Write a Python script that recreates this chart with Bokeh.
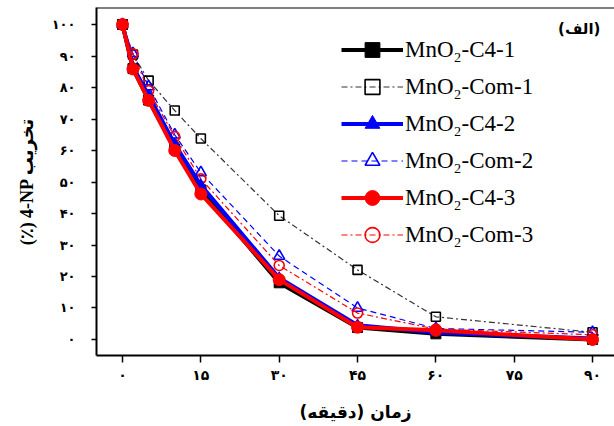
from bokeh.plotting import figure
from bokeh.models import (Legend, LegendItem, FixedTicker, Span, Label, Range1d)
from bokeh.embed import file_html
from bokeh.resources import INLINE

# ---- data ----
time_min = [0, 2, 5, 10, 15, 30, 45, 60, 90]
c4_1 = [100, 86.0, 76.0, 60.5, 47.5, 18.0, 3.8, 1.8, 0.0]
com_1 = [100, 90.5, 82.2, 72.7, 63.8, 39.3, 22.1, 7.2, 2.3]
c4_2 = [100, 86.5, 77.5, 62.0, 49.0, 19.5, 4.5, 2.2, 0.3]
com_2 = [100, 90.8, 80.3, 65.0, 53.0, 26.5, 10.0, 3.5, 2.3]
c4_3 = [100, 85.9, 75.9, 60.0, 46.2, 19.0, 3.9, 2.9, 0.0]
com_3 = [100, 90.7, 79.0, 64.4, 51.0, 23.5, 8.4, 3.3, 1.5]

series_names = ["MnO₂-C4-1", "MnO₂-Com-1", "MnO₂-C4-2",
                "MnO₂-Com-2", "MnO₂-C4-3", "MnO₂-Com-3"]

x_ticks = [0, 15, 30, 45, 60, 75, 90]
x_tick_labels = ["۰", "۱۵", "۳۰", "۴۵", "۶۰", "۷۵", "۹۰"]
y_ticks = [0, 10, 20, 30, 40, 50, 60, 70, 80, 90, 100]
y_tick_labels = ["۰", "۱۰", "۲۰", "۳۰", "۴۰", "۵۰", "۶۰", "۷۰", "۸۰", "۹۰", "۱۰۰"]

x_label = "زمان (دقیقه)"
y_label = "(٪) 4-NP تخریب"
panel_label = "(الف)"

X_MIN, X_MAX = -4.98, 94.2
Y_MIN, Y_MAX = -5.08, 105.4

FA_FONT = "DejaVu Sans"

p = figure(width=614, height=426, output_backend="svg", toolbar_location=None,
           x_range=Range1d(X_MIN, X_MAX), y_range=Range1d(Y_MIN, Y_MAX),
           min_border_left=96, min_border_right=0, min_border_top=7,
           min_border_bottom=71)
p.grid.visible = False
p.outline_line_color = None
p.background_fill_color = "white"
p.border_fill_color = "white"

# top frame line
p.add_layout(Span(location=Y_MAX, dimension="width", line_color="black", line_width=2))

for ax in (p.xaxis[0], p.yaxis[0]):
    ax.axis_line_width = 2
    ax.axis_line_color = "black"
    ax.major_tick_line_width = 1.5
    ax.major_tick_in = 0
    ax.minor_tick_line_color = None
    ax.major_label_text_font = FA_FONT
    ax.major_label_text_font_style = "bold"
    ax.major_label_text_color = "black"
    ax.axis_label_text_color = "black"

p.xaxis.ticker = FixedTicker(ticks=x_ticks)
p.xaxis.major_label_overrides = {t: l for t, l in zip(x_ticks, x_tick_labels)}
p.xaxis.major_tick_out = 7
p.xaxis.major_label_standoff = 4
p.xaxis.major_label_text_font_size = "14px"
p.xaxis.axis_label = x_label
p.xaxis.axis_label_text_font = FA_FONT
p.xaxis.axis_label_text_font_style = "bold"
p.xaxis.axis_label_text_font_size = "17px"
p.xaxis.axis_label_standoff = 16

p.yaxis.ticker = FixedTicker(ticks=y_ticks)
p.yaxis.major_label_overrides = {t: l for t, l in zip(y_ticks, y_tick_labels)}
p.yaxis.major_tick_out = 5
p.yaxis.major_label_standoff = 16
p.yaxis.major_label_text_font_size = "13px"
p.yaxis.axis_label = y_label
p.yaxis.axis_label_text_font = "Liberation Serif, DejaVu Sans"
p.yaxis.axis_label_text_font_style = "bold"
p.yaxis.axis_label_text_font_size = "18px"
p.yaxis.axis_label_standoff = 12

styles = [
    # (data, color, width, dash, marker, size, filled)
    (c4_1, "black", 4, "solid", "square", 10, True),
    (com_1, "#333333", 1.2, "6 3 2 3", "square", 9, False),
    (c4_2, "blue", 4, "solid", "triangle", 11, True),
    (com_2, "blue", 1.2, "6 4", "triangle", 11, False),
    (c4_3, "red", 4, "solid", "circle", 12, True),
    (com_3, "red", 1.2, "6 3 2 3", "circle", 10, False),
]

draw_order = [1, 3, 5, 0, 2, 4]
renderers = {}
for i in draw_order:
    data, color, w, dash, marker, size, filled = styles[i]
    lr = p.line(time_min, data, line_color=color, line_width=w, line_dash=dash)
    mcol = "black" if (i == 1) else color
    if filled:
        sr = p.scatter(time_min, data, marker=marker, size=size,
                       fill_color=color, line_color=color, line_width=1)
    else:
        sr = p.scatter(time_min, data, marker=marker, size=size,
                       fill_color="white", fill_alpha=0.0, line_color=mcol, line_width=1.6)
    renderers[i] = [lr, sr]

items = [LegendItem(label=series_names[i], renderers=renderers[i]) for i in range(6)]
legend = Legend(items=items, location=(245, 102), orientation="vertical",
                glyph_width=62, glyph_height=37, label_height=37, spacing=0,
                padding=0, margin=0, label_standoff=2,
                label_text_font="Liberation Serif", label_text_font_size="23px",
                label_text_color="black",
                border_line_color=None, background_fill_alpha=0.0)
p.add_layout(legend)

p.add_layout(Label(x=91.5, y=98.7, text=panel_label, text_align="right",
                   text_baseline="middle", text_font=FA_FONT,
                   text_font_style="bold", text_font_size="15px", text_color="black"))

open("out.html", "w").write(file_html(p, INLINE))
